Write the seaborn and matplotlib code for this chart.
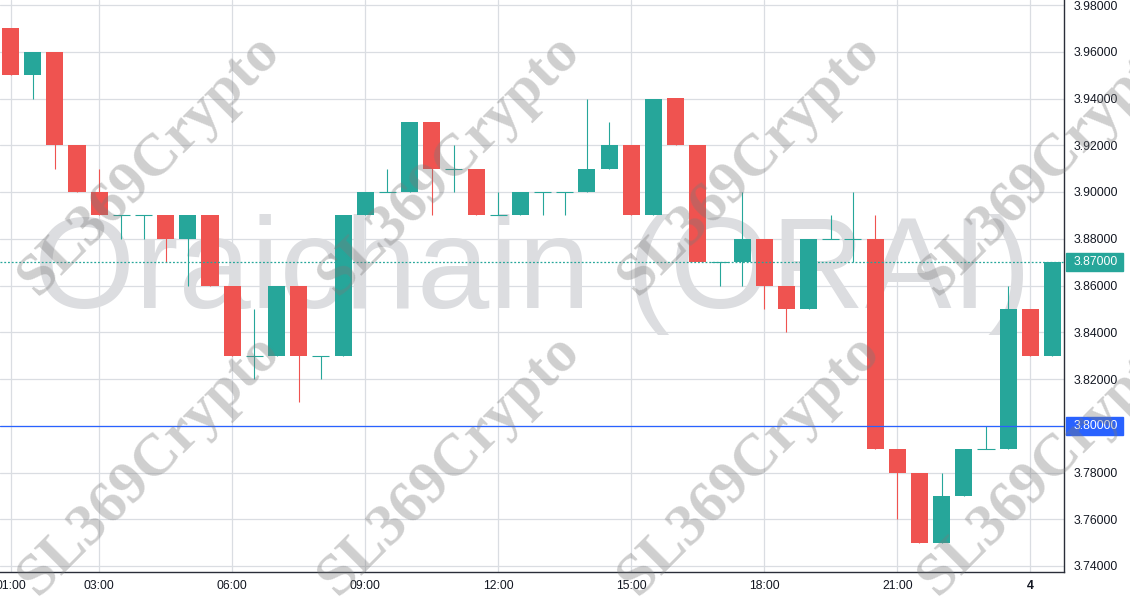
import numpy as np
import pandas as pd
import seaborn as sns
import matplotlib.pyplot as plt
from matplotlib.patches import Rectangle
from matplotlib.transforms import blended_transform_factory

# 30 minute candles, ORAI
times = pd.date_range("2023-01-03 01:00", periods=48, freq="30min")
opens  = [3.97, 3.95, 3.96, 3.92, 3.90, 3.89, 3.89, 3.89, 3.88, 3.89, 3.86, 3.83,
          3.83, 3.86, 3.83, 3.83, 3.89, 3.90, 3.90, 3.93, 3.91, 3.91, 3.89, 3.89,
          3.90, 3.90, 3.90, 3.91, 3.92, 3.89, 3.94, 3.92, 3.87, 3.87, 3.88, 3.86,
          3.85, 3.88, 3.88, 3.88, 3.79, 3.78, 3.75, 3.77, 3.79, 3.79, 3.85, 3.83]
highs  = [3.97, 3.96, 3.96, 3.92, 3.91, 3.89, 3.89, 3.89, 3.89, 3.89, 3.86, 3.85,
          3.86, 3.86, 3.83, 3.89, 3.90, 3.91, 3.93, 3.93, 3.92, 3.91, 3.90, 3.90,
          3.90, 3.90, 3.94, 3.93, 3.92, 3.94, 3.94, 3.92, 3.87, 3.90, 3.88, 3.86,
          3.88, 3.89, 3.90, 3.89, 3.79, 3.78, 3.78, 3.79, 3.80, 3.86, 3.85, 3.87]
lows   = [3.95, 3.94, 3.91, 3.90, 3.89, 3.88, 3.88, 3.87, 3.86, 3.86, 3.83, 3.82,
          3.83, 3.81, 3.82, 3.83, 3.89, 3.90, 3.90, 3.89, 3.90, 3.89, 3.89, 3.89,
          3.89, 3.89, 3.90, 3.91, 3.89, 3.89, 3.92, 3.87, 3.86, 3.86, 3.85, 3.84,
          3.85, 3.88, 3.87, 3.79, 3.76, 3.75, 3.75, 3.77, 3.79, 3.79, 3.83, 3.83]
closes = [3.95, 3.96, 3.92, 3.90, 3.89, 3.89, 3.89, 3.88, 3.89, 3.86, 3.83, 3.83,
          3.86, 3.83, 3.83, 3.89, 3.90, 3.90, 3.93, 3.91, 3.91, 3.89, 3.89, 3.90,
          3.90, 3.90, 3.91, 3.92, 3.89, 3.94, 3.92, 3.87, 3.87, 3.88, 3.86, 3.85,
          3.88, 3.88, 3.88, 3.79, 3.78, 3.75, 3.77, 3.79, 3.79, 3.85, 3.83, 3.87]

tick_times  = ["01:00", "03:00", "06:00", "09:00", "12:00", "15:00", "18:00", "21:00", "00:00"]
tick_labels = ["01:00", "03:00", "06:00", "09:00", "12:00", "15:00", "18:00", "21:00", "4"]
price_ticks = [3.74, 3.76, 3.78, 3.80, 3.82, 3.84, 3.86, 3.88, 3.90, 3.92, 3.94, 3.96, 3.98]
alert_price = 3.80
last_price = closes[-1]

UP, DOWN = "#26a69a", "#ef5350"
BLUE = "#2962ff"
TXT = "#131722"

sns.set_theme(style="white")
plt.rcParams["font.family"] = ["Liberation Sans", "DejaVu Sans"]

df = pd.DataFrame({"time": times, "open": opens, "high": highs, "low": lows, "close": closes})
df["i"] = np.arange(len(df))
df["color"] = np.where(df["close"] >= df["open"], UP, DOWN)

W, H = 1130, 600
fig = plt.figure(figsize=(W / 100, H / 100), dpi=100)
ax = fig.add_axes([0, 28 / H, 1064 / W, 572 / H])

ax.set_xlim(-10.5 / 22.17, (1064 - 10.5) / 22.17)
ax.set_ylim(3.98 - 567 / 2337.5, 3.98 + 5 / 2337.5)

# big watermark behind the candles
ax.text(0.5, 3.8504, "Oraichain (ORAI)",
        transform=blended_transform_factory(ax.transAxes, ax.transData),
        ha="center", va="baseline", fontsize=93.6, color="#dcdde0", zorder=1)

body_w = 0.77
ax.vlines(df["i"], df["low"], df["high"], colors=df["color"], linewidth=0.8, zorder=3)
body = df[df["open"] != df["close"]]
ax.bar(body["i"], (body["close"] - body["open"]).abs(),
       bottom=body[["open", "close"]].min(axis=1),
       width=body_w, color=body["color"], linewidth=0, zorder=4)
doji = df[df["open"] == df["close"]]
ax.hlines(doji["open"], doji["i"] - body_w / 2, doji["i"] + body_w / 2,
          colors=doji["color"], linewidth=0.8, zorder=4)

ax.axhline(alert_price, color=BLUE, linewidth=0.9, zorder=5)
ax.axhline(last_price, color=UP, linewidth=0.9, linestyle=(0, (1.5, 1.5)), zorder=5)

tick_idx = [int(df.index[df["time"].dt.strftime("%H:%M") == t][0]) for t in tick_times]
ax.set_xticks(tick_idx)
ax.set_xticklabels(tick_labels)
ax.get_xticklabels()[-1].set_fontweight("bold")
ax.set_yticks(price_ticks)
ax.set_yticklabels([f"{p:.5f}" for p in price_ticks])
ax.yaxis.tick_right()
ax.tick_params(axis="x", length=0, pad=6, labelsize=8.8, labelcolor=TXT)
ax.tick_params(axis="y", length=0, pad=7, labelsize=8.8, labelcolor=TXT)
ax.grid(True, color="#dadde2", linewidth=0.9)
ax.set_axisbelow(True)

for side in ["top", "left"]:
    ax.spines[side].set_visible(False)
for side in ["bottom", "right"]:
    ax.spines[side].set_color("#2a2e39")
    ax.spines[side].set_linewidth(1.0)

# price labels on the scale
tr = blended_transform_factory(fig.transFigure, ax.transData)
box_h = 18 / 2337.5
for price, col in [(last_price, UP), (alert_price, BLUE)]:
    ax.add_patch(Rectangle((1066 / W, price - box_h / 2), 57 / W, box_h,
                           transform=tr, color=col, clip_on=False, zorder=6))
    ax.text(1074 / W, price, f"{price:.5f}", transform=tr, ha="left", va="center",
            color="white", fontsize=8.8, zorder=7, clip_on=False)

# repeated diagonal watermark over everything
for cy in [165, 465]:
    for cx in [150, 450, 750, 1050]:
        fig.text(cx / W, 1 - cy / H, "SL369Crypto", rotation=45, rotation_mode="anchor",
                 ha="center", va="center", fontsize=43, fontweight="bold",
                 family=["Liberation Serif", "DejaVu Serif"],
                 color="#7a7a7a", alpha=0.36, zorder=10)

fig.savefig("out.png", dpi=100)
